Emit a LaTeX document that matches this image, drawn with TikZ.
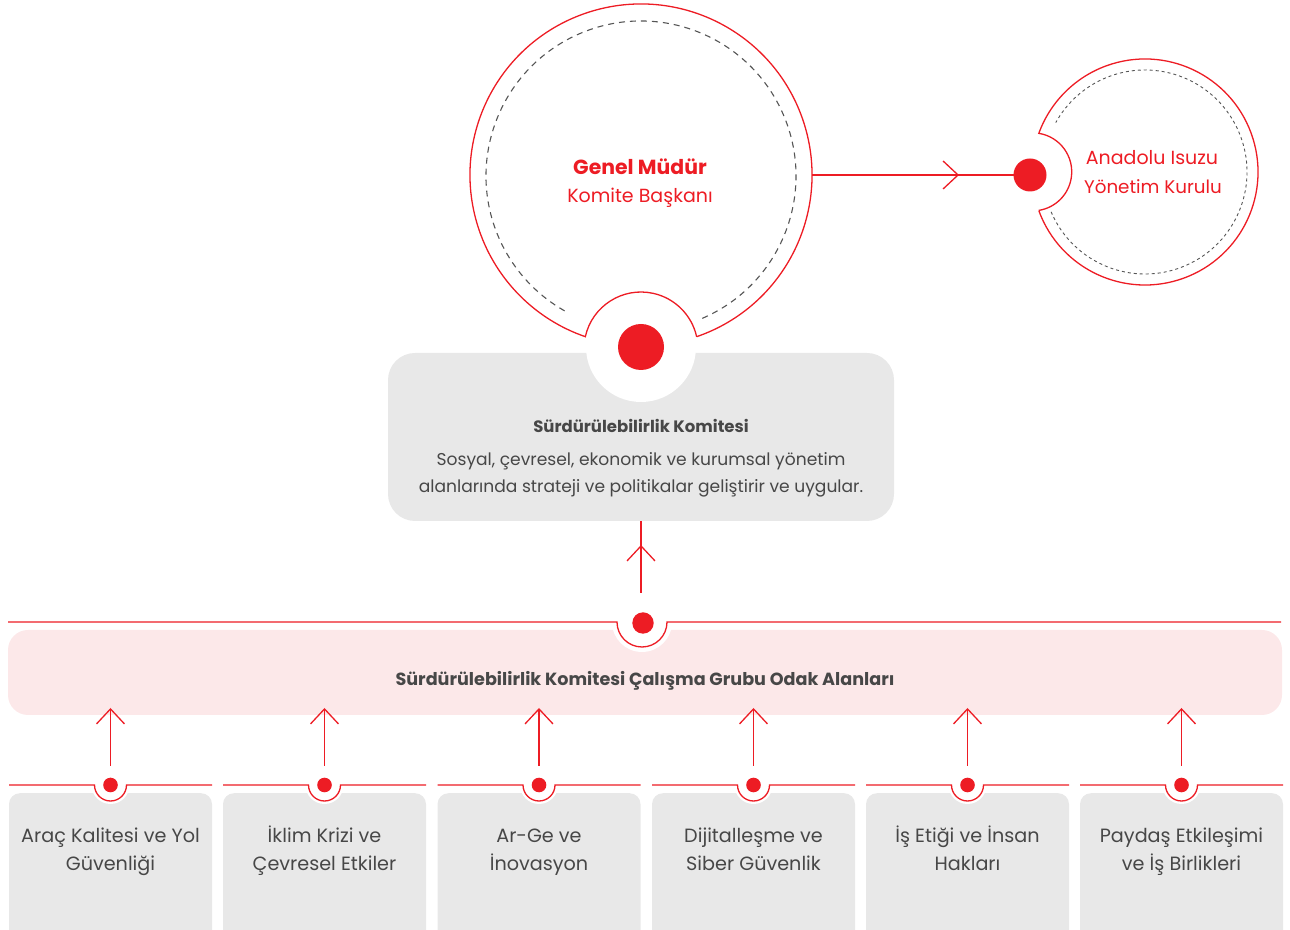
\documentclass[tikz,border=0pt]{standalone}
\usepackage{fontspec}
\setmainfont{Poppins}
\usetikzlibrary{arrows.meta}
\definecolor{aired}{HTML}{ED1C24}
\definecolor{boxgray}{HTML}{E8E8E8}
\definecolor{bandpink}{HTML}{FCE8E9}
\definecolor{txtgray}{HTML}{474747}
\definecolor{dashgray}{HTML}{555555}
\tikzset{
    redline/.style={draw=aired, line width=1.3pt},
    chev/.style={-{Straight Barb[length=15pt, width=28pt]}},
    dashring/.style={draw=dashgray, line width=1.1pt, dash pattern=on 6pt off 5pt},
    dashringsmall/.style={draw=dashgray, line width=0.9pt, dash pattern=on 3pt off 3pt},
    ring/.style={circle, inner sep=0pt},
    dot/.style={circle, fill=aired, inner sep=0pt},
    hole/.style={circle, fill=white, inner sep=0pt},
    areabox/.style={fill=boxgray, rounded corners=11pt, inner sep=0pt, minimum width=203pt, minimum height=170pt, anchor=north},
    areatxt/.style={text=txtgray, font=\fontsize{19.2}{28}\selectfont, align=center, anchor=base},
    redtxt/.style={text=aired, font=\fontsize{19}{28}\selectfont, anchor=base}
}

\begin{document}
\begin{tikzpicture}[x=1pt, y=1pt]
    \useasboundingbox (0,0) rectangle (1290,929);
    \clip (0,0) rectangle (1290,929);

    \node[ring, minimum size=342pt] (gm) at (641,754) {};
    \node[ring, minimum size=226pt] (ai) at (1145,757) {};

    \node[fill=boxgray, rounded corners=27pt, minimum width=506pt, minimum height=168pt, inner sep=0pt] (sk) at (641,492) {};
    \node[hole, minimum size=110pt] (skhole) at (641,582) {};
    \draw[redline] ([shift={(641,754)}]-71:171) arc[start angle=-71, end angle=251, radius=171] arc[start angle=167.5, end angle=12.5, radius=57];
    \draw[dashring] ([shift={(641,753)}]-66.7:155) arc[start angle=-66.7, end angle=242.2, radius=155];
    \node[dot, minimum size=46pt] (skdot) at (641,582) {};

    \draw[redline] ([shift={(1145,757)}]-160:113) arc[start angle=-160, end angle=160, radius=113] arc[start angle=81, end angle=-81, radius=39];
    \draw[dashringsmall] ([shift={(1145,757)}]-157:102) arc[start angle=-157, end angle=151, radius=102];
    \node[dot, minimum size=33pt] (aidot) at (1030,754) {};

    \coordinate (chevai) at (959,754);
    \draw[redline] (gm.east) -- (aidot.center);
    \draw[redline, chev] (gm.east) -- (chevai);

    \node[redtxt, font=\fontsize{20.4}{28}\selectfont\bfseries] (gmname) at (640,754) {Genel Müdür};
    \node[redtxt] (gmrole) at (640,726) {Komite Başkanı};
    \node[redtxt] (ainame) at (1152,764) {Anadolu Isuzu};
    \node[redtxt, font=\fontsize{18.3}{28}\selectfont] (airole) at (1153,735) {Yönetim Kurulu};

    \node[text=txtgray, font=\fontsize{16.5}{24}\selectfont\bfseries, anchor=base] (sktitle) at (641,496) {Sürdürülebilirlik Komitesi};
    \node[text=txtgray, font=\fontsize{17.1}{27}\selectfont, align=center, anchor=base] (skdesc) at (641,436) {Sosyal, çevresel, ekonomik ve kurumsal yönetim\\alanlarında strateji ve politikalar geliştirir ve uygular.};

    \node[fill=bandpink, rounded corners=20pt, minimum width=1274pt, minimum height=85pt, inner sep=0pt] (band) at (645,256.5) {};
    \node[hole, minimum size=60pt] (bandhole) at (642,307) {};
    \draw[redline] (8,307) -- (617,307) arc[start angle=180, end angle=360, radius=25] -- (1281,307);
    \node[dot, minimum size=21.4pt] (banddot) at (643,306) {};
    \node[text=txtgray, font=\fontsize{17.6}{24}\selectfont\bfseries, anchor=base] (bandtxt) at (645,243) {Sürdürülebilirlik Komitesi Çalışma Grubu Odak Alanları};

    \coordinate (bandtail) at (641,336);
    \coordinate (chevsk) at (641,384);
    \draw[redline] (bandtail) -- (sk.south);
    \draw[redline, chev] (bandtail) -- (chevsk);

    \foreach \cx/\nm/\txt in {110.5/arac/{Araç Kalitesi ve Yol\\Güvenliği}, 324.5/iklim/{İklim Krizi ve\\Çevresel Etkiler}, 539/arge/{Ar-Ge ve\\İnovasyon}, 753.5/dijital/{Dijitalleşme ve\\Siber Güvenlik}, 967.5/etik/{İş Etiği ve İnsan\\Hakları}, 1181.5/paydas/{Paydaş Etkileşimi\\ve İş Birlikleri}} {
        \node[areabox] (\nm) at (\cx,136) {};
        \node[hole, minimum size=38pt] (\nm hole) at (\cx,144) {};
        \draw[redline] (\cx-101.5,144) -- (\cx-16,144) arc[start angle=180, end angle=360, radius=16] -- (\cx+101.5,144);
        \node[dot, minimum size=14.6pt] (\nm dot) at (\cx,144) {};
        \node[areatxt] (\nm txt) at (\cx,59) {\txt};
        \coordinate (\nm tail) at (\cx,163);
        \coordinate (\nm head) at (\cx,221);
        \draw[redline, chev] (\nm tail) -- (\nm head);
    }
\end{tikzpicture}
\end{document}
